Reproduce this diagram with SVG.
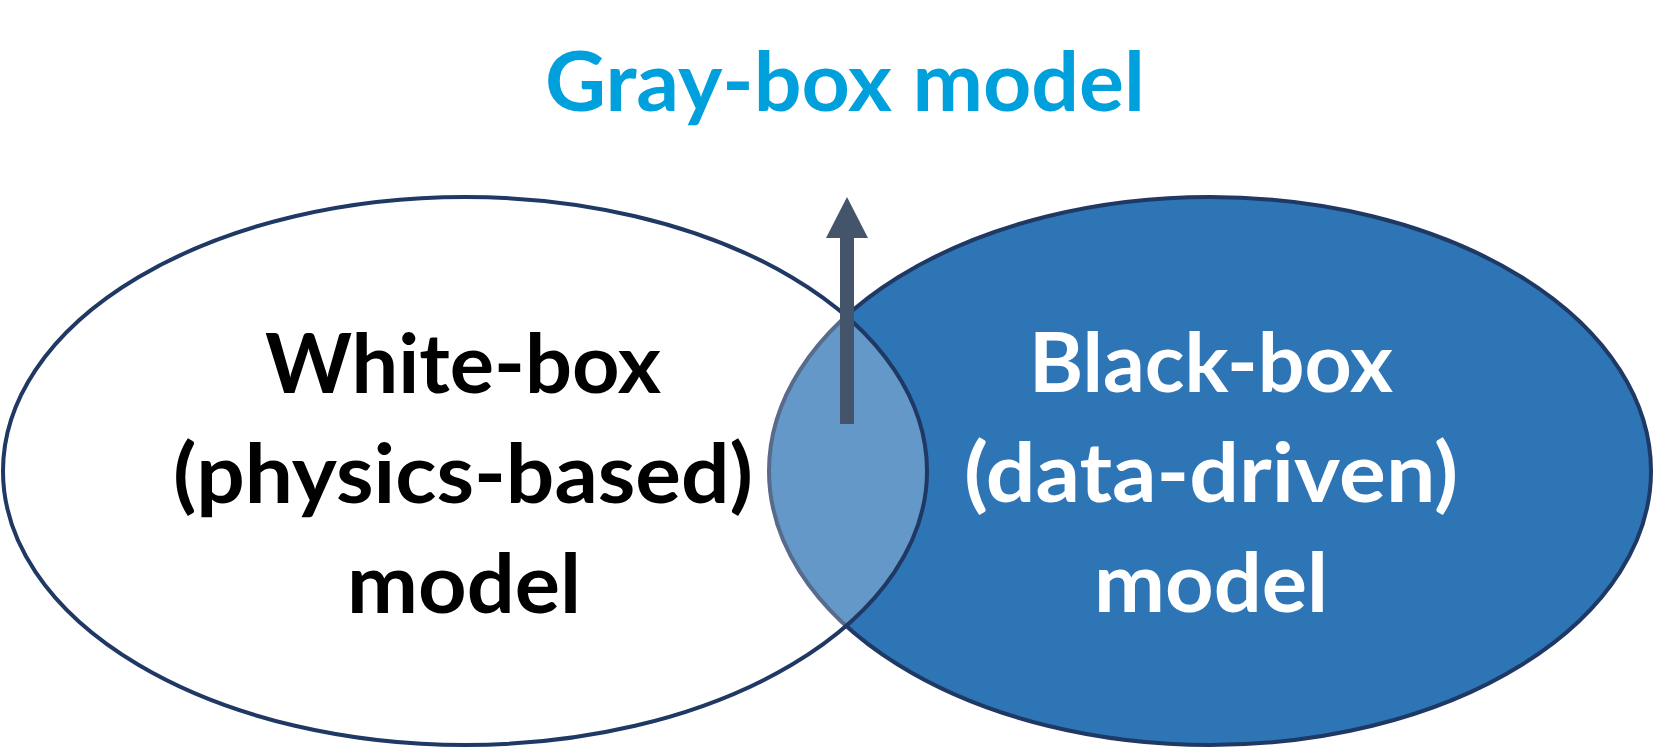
<svg xmlns="http://www.w3.org/2000/svg" width="1655" height="750" viewBox="0 0 1655 750">
<style>
  .lbl { font-family: Lato, "Open Sans", "Liberation Sans", sans-serif; font-weight: bold; font-size: 82px; text-anchor: middle; }
  .ell { stroke: #1f3864; stroke-width: 4; }
</style>
<rect width="1655" height="750" fill="#ffffff"/>
<g id="black-box">
  <ellipse class="ell" cx="1210" cy="471" rx="441" ry="274" fill="#2e75b6"/>
</g>
<g id="white-box">
  <ellipse class="ell" cx="465" cy="471" rx="462" ry="274" fill="#ffffff" fill-opacity="0.26"/>
</g>
<g id="white-box-label">
  <text class="lbl" x="463" y="393" fill="#000000" textLength="396" lengthAdjust="spacingAndGlyphs">White-box</text>
  <text class="lbl" x="463" y="503" fill="#000000" textLength="580" lengthAdjust="spacingAndGlyphs">(physics-based)</text>
  <text class="lbl" x="464" y="613" fill="#000000" textLength="234" lengthAdjust="spacingAndGlyphs">model</text>
</g>
<g id="black-box-label">
  <text class="lbl" x="1211" y="392" fill="#ffffff" textLength="364" lengthAdjust="spacingAndGlyphs">Black-box</text>
  <text class="lbl" x="1211" y="502" fill="#ffffff" textLength="494" lengthAdjust="spacingAndGlyphs">(data-driven)</text>
  <text class="lbl" x="1211" y="612" fill="#ffffff" textLength="234" lengthAdjust="spacingAndGlyphs">model</text>
</g>
<g id="connectors">
  <rect x="840" y="237" width="14" height="187" fill="#44546a"/>
  <polygon points="826,238 868,238 847,197" fill="#44546a"/>
</g>
<g id="gray-box">
  <text class="lbl" x="845" y="111" fill="#00a0dc" textLength="600" lengthAdjust="spacingAndGlyphs">Gray-box model</text>
</g>
</svg>
